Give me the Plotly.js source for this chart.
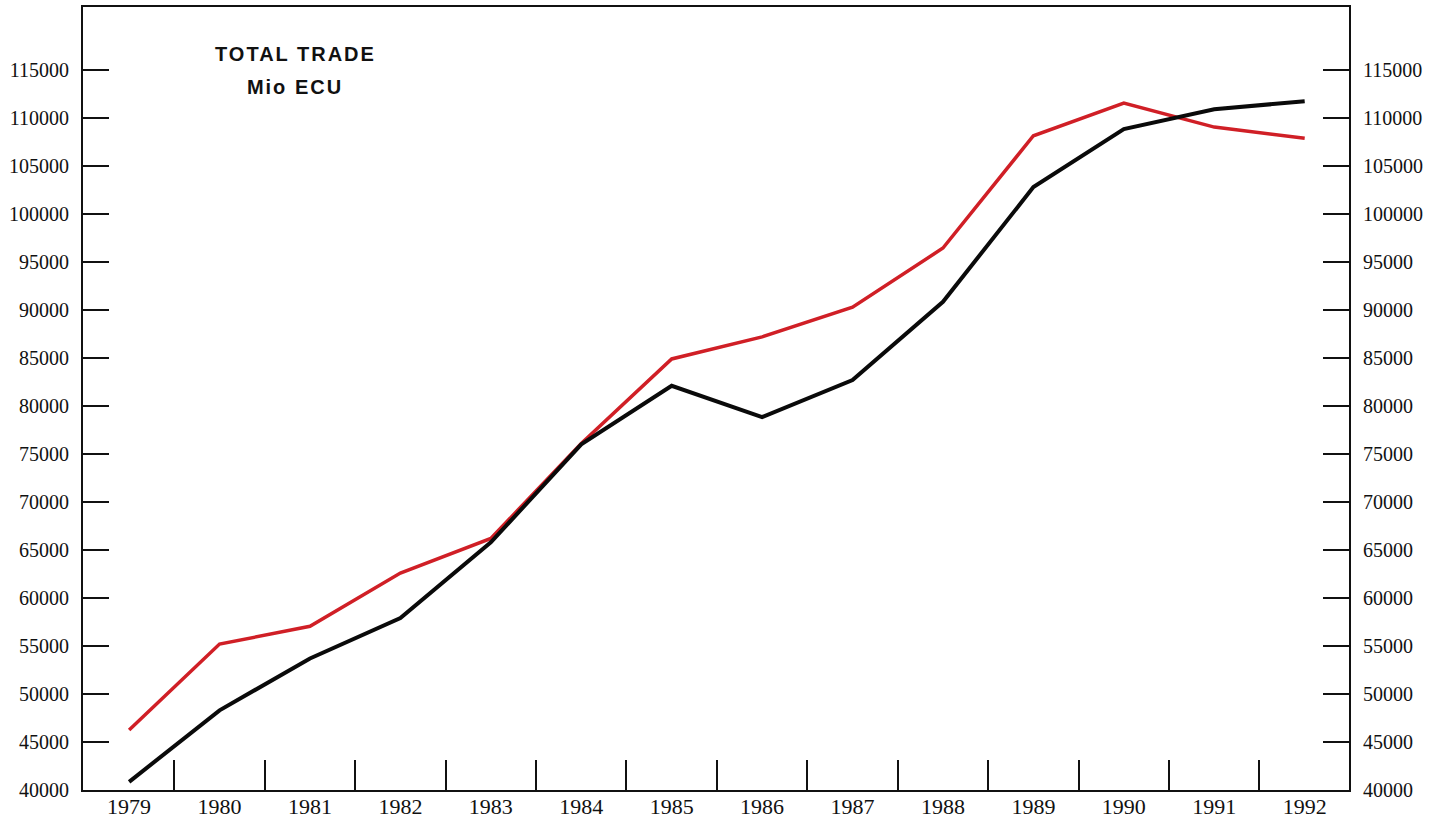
<!DOCTYPE html>
<html>
<head>
<meta charset="utf-8">
<script src="https://cdn.plot.ly/plotly-3.0.1.min.js"></script>
<style>
  html, body { margin: 0; padding: 0; background: #ffffff; }
  #chart { width: 1440px; height: 825px; }
</style>
</head>
<body>
<div id="chart"></div>
<script>
// ---- data (Mio ECU) ----
var years = [1979, 1980, 1981, 1982, 1983, 1984, 1985, 1986, 1987, 1988, 1989, 1990, 1991, 1992];
var redSeries = [46250, 55200, 57050, 62600, 66200, 76100, 84900, 87200, 90300, 96450, 108150, 111550, 109050, 107900];
var blackSeries = [40850, 48300, 53700, 57900, 65800, 76000, 82100, 78850, 82700, 90850, 102800, 108850, 110900, 111750];
var yTickVals = [40000, 45000, 50000, 55000, 60000, 65000, 70000, 75000, 80000, 85000, 90000, 95000, 100000, 105000, 110000, 115000];
var titleLines = ["TOTAL TRADE", "Mio ECU"];

var axisColor = '#111111';
var yRange = [40000, 121560];
// separator ticks sit between consecutive years
var separators = years.slice(0, -1).map(function (y) { return y + 0.5; });

var traces = [
  {
    x: years, y: redSeries, type: 'scatter', mode: 'lines',
    line: {color: '#d01f26', width: 3.5}, name: 'red', hoverinfo: 'x+y'
  },
  {
    x: years, y: blackSeries, type: 'scatter', mode: 'lines',
    line: {color: '#0a0a0a', width: 4}, name: 'black', hoverinfo: 'x+y'
  },
  {
    x: years, y: blackSeries, type: 'scatter', mode: 'lines', yaxis: 'y2',
    line: {color: 'rgba(0,0,0,0)', width: 0}, showlegend: false, hoverinfo: 'skip'
  }
];

var yCommon = {
  range: yRange, autorange: false,
  tickmode: 'array', tickvals: yTickVals,
  ticktext: yTickVals.map(function (v) { return String(v); }),
  ticks: 'inside', ticklen: 26, tickwidth: 2, tickcolor: axisColor,
  showline: true, linecolor: axisColor, linewidth: 2,
  showgrid: false, zeroline: false,
  tickfont: {family: 'Liberation Serif, serif', size: 20, color: '#111'},
  ticklabelstandoff: 8
};

var layout = {
  width: 1440, height: 825,
  margin: {l: 83, r: 91, t: 7, b: 35, pad: 0},
  paper_bgcolor: '#ffffff', plot_bgcolor: '#ffffff',
  showlegend: false,
  xaxis: {
    range: [1978.49, 1992.49], autorange: false,
    tickmode: 'array', tickvals: years, ticktext: years.map(String),
    ticks: '', showgrid: false, zeroline: false,
    showline: true, linecolor: axisColor, linewidth: 2, mirror: true,
    tickfont: {family: 'Liberation Serif, serif', size: 22, color: '#111'},
    ticklabelstandoff: -4,
    minor: {tickmode: 'array', tickvals: separators, ticks: 'inside', ticklen: 30, tickwidth: 2, tickcolor: axisColor, showgrid: false}
  },
  yaxis: Object.assign({}, yCommon, {side: 'left'}),
  yaxis2: Object.assign({}, yCommon, {side: 'right', overlaying: 'y', matches: 'y'}),
  annotations: [
    {
      text: titleLines[0], xref: 'paper', yref: 'paper', x: 0.1675, y: (790 - 54) / 783,
      xanchor: 'center', yanchor: 'middle', showarrow: false,
      font: {family: 'Liberation Sans, Arial, sans-serif', size: 20, color: '#111'}
    },
    {
      text: titleLines[1], xref: 'paper', yref: 'paper', x: 0.1675, y: (790 - 87) / 783,
      xanchor: 'center', yanchor: 'middle', showarrow: false,
      font: {family: 'Liberation Sans, Arial, sans-serif', size: 20, color: '#111'}
    }
  ]
};

Plotly.newPlot('chart', traces, layout, {displayModeBar: false, staticPlot: true}).then(function () {
  var els = document.querySelectorAll('#chart .annotation-text');
  els.forEach(function (el) { el.style.letterSpacing = '2px'; el.style.fontWeight = '600'; });
});
</script>
</body>
</html>
